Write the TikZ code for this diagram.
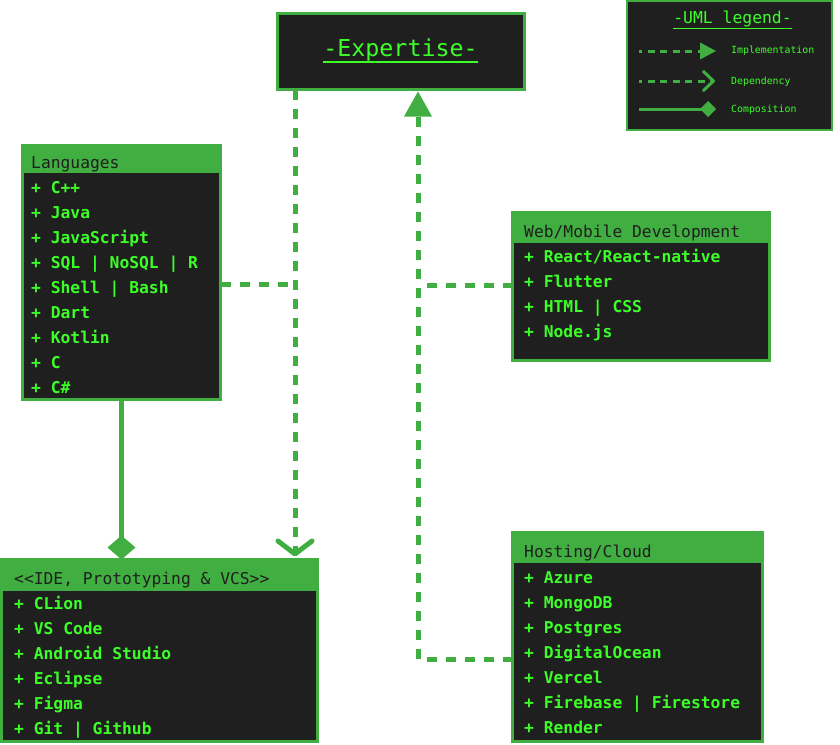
\documentclass[tikz,border=0pt]{standalone}
\usepackage{fontspec}
\setmonofont{DejaVu Sans Mono}
\usetikzlibrary{arrows.meta}
\definecolor{umlgreen}{RGB}{64,174,64}
\definecolor{txtgreen}{RGB}{60,255,40}
\definecolor{boxbg}{RGB}{31,31,31}
\tikzset{
  classbox/.style={draw=umlgreen, fill=boxbg, line width=3pt, inner sep=0pt, outer sep=0pt, anchor=north west},
  headtxt/.style={anchor=base west, inner sep=0pt, text=boxbg, font=\ttfamily\fontsize{16.3}{18}\selectfont},
  itemtxt/.style={anchor=base west, inner sep=0pt, text=txtgreen, font=\ttfamily\bfseries\fontsize{16.3}{18}\selectfont},
  legtxt/.style={anchor=base west, inner sep=0pt, text=txtgreen, font=\ttfamily\fontsize{9.85}{11}\selectfont},
  dashline/.style={draw=umlgreen, line width=5pt, dash pattern=on 10pt off 9pt},
  compline/.style={draw=umlgreen, line width=5pt},
  legdash/.style={draw=umlgreen, line width=3pt, dash pattern=on 7pt off 5.5pt, dash phase=4pt},
  legsolid/.style={draw=umlgreen, line width=3pt},
}
\begin{document}
\begin{tikzpicture}[x=1pt,y=-1pt]
\useasboundingbox (0,0) rectangle (840,744);

% Expertise
\node[classbox, minimum width=247pt, minimum height=76pt] (exp) at (277.5,13.5) {};
\node[anchor=base, inner sep=0pt, text=txtgreen, font=\ttfamily\fontsize{23.3}{26}\selectfont] (exptitle) at (400.5,56) {-Expertise-};
\draw[txtgreen, line width=1.5pt] ([yshift=-6pt]exptitle.base west) -- ([yshift=-6pt]exptitle.base east);

% Legend
\node[classbox, line width=2pt, minimum width=205pt, minimum height=129pt] (leg) at (627,1) {};
\node[anchor=base, inner sep=0pt, text=txtgreen, font=\ttfamily\fontsize{16.4}{18}\selectfont] (legtitle) at (732.5,23.5) {-UML legend-};
\draw[txtgreen, line width=1.5pt] ([yshift=-5pt]legtitle.base west) -- ([yshift=-5pt]legtitle.base east);
\coordinate (li1) at (639,51); \coordinate (li2) at (716,51);
\coordinate (ld1) at (639,81); \coordinate (ld2) at (715,81);
\coordinate (lc1) at (639,109); \coordinate (lc2) at (716,109);
\draw[legdash, -{Triangle[length=16pt,width=17pt,line width=0pt]}] (li1) -- (li2);
\draw[legdash, -{Straight Barb[length=10pt,width=19pt,line width=3pt,round]}] (ld1) -- (ld2);
\draw[legsolid, -{Diamond[length=16pt,width=16pt,line width=0pt]}] (lc1) -- (lc2);
\node[legtxt] (lt1) at (731,53) {Implementation};
\node[legtxt] (lt2) at (731,84) {Dependency};
\node[legtxt] (lt3) at (731,112) {Composition};

% Languages
\node[classbox, minimum width=198pt, minimum height=254pt] (lang) at (22.5,145.5) {};
\fill[umlgreen] (lang.north west) rectangle (lang.east |- 0,173);
\node[headtxt] (langh) at (31,168) {Languages};
\foreach \t [count=\i] in {C++,Java,JavaScript,SQL | NoSQL | R,Shell | Bash,Dart,Kotlin,C,C\#}
  \node[itemtxt] (lang\i) at (31,{168+25*\i}) {+ \t};

% IDE
\node[classbox, minimum width=316pt, minimum height=182pt] (ide) at (1.5,559.5) {};
\fill[umlgreen] (ide.north west) rectangle (ide.east |- 0,591);
\node[headtxt] (ideh) at (14,584) {<<IDE, Prototyping \& VCS>>};
\foreach \t [count=\i] in {CLion,VS Code,Android Studio,Eclipse,Figma,Git | Github}
  \node[itemtxt] (ide\i) at (14,{584+25*\i}) {+ \t};

% Web/Mobile
\node[classbox, minimum width=257pt, minimum height=148pt] (web) at (512.5,212.5) {};
\fill[umlgreen] (web.north west) rectangle (web.east |- 0,243);
\node[headtxt] (webh) at (524,237) {Web/Mobile Development};
\foreach \t [count=\i] in {React/React-native,Flutter,HTML | CSS,Node.js}
  \node[itemtxt] (web\i) at (524,{237+25*\i}) {+ \t};

% Hosting
\node[classbox, minimum width=250pt, minimum height=209pt] (host) at (512.5,532.5) {};
\fill[umlgreen] (host.north west) rectangle (host.east |- 0,563);
\node[headtxt] (hosth) at (524,557) {Hosting/Cloud};
\foreach \t [count=\i] in {Azure,MongoDB,Postgres,DigitalOcean,Vercel,Firebase | Firestore,Render}
  \node[itemtxt] (host\i) at (524,{558+25*\i}) {+ \t};

% connectors
\coordinate (depx) at (295,0);
\coordinate (impx) at (418,0);
\coordinate (langout) at ([yshift=-11.5pt]lang.east);
\coordinate (webin) at ([yshift=1.5pt]web.west);
\coordinate (hostin) at ([yshift=-22pt]host.west);

\draw[dashline, -{Straight Barb[length=13pt,width=34pt,line width=5pt,round]}, shorten >=3pt] (exp.south -| depx) -- (ide.north -| depx);
\draw[dashline] (langout) -- (langout -| depx);
\draw[compline, -{Diamond[length=24pt,width=28pt,line width=0pt]}] (lang.south) -- (lang.south |- ide.north);
\draw[dashline, -{Triangle[length=25pt,width=28pt,line width=0pt]}, shorten >=2pt] (hostin) -| (exp.south -| impx);
\draw[dashline] (webin) -- (webin -| impx);
\end{tikzpicture}
\end{document}
